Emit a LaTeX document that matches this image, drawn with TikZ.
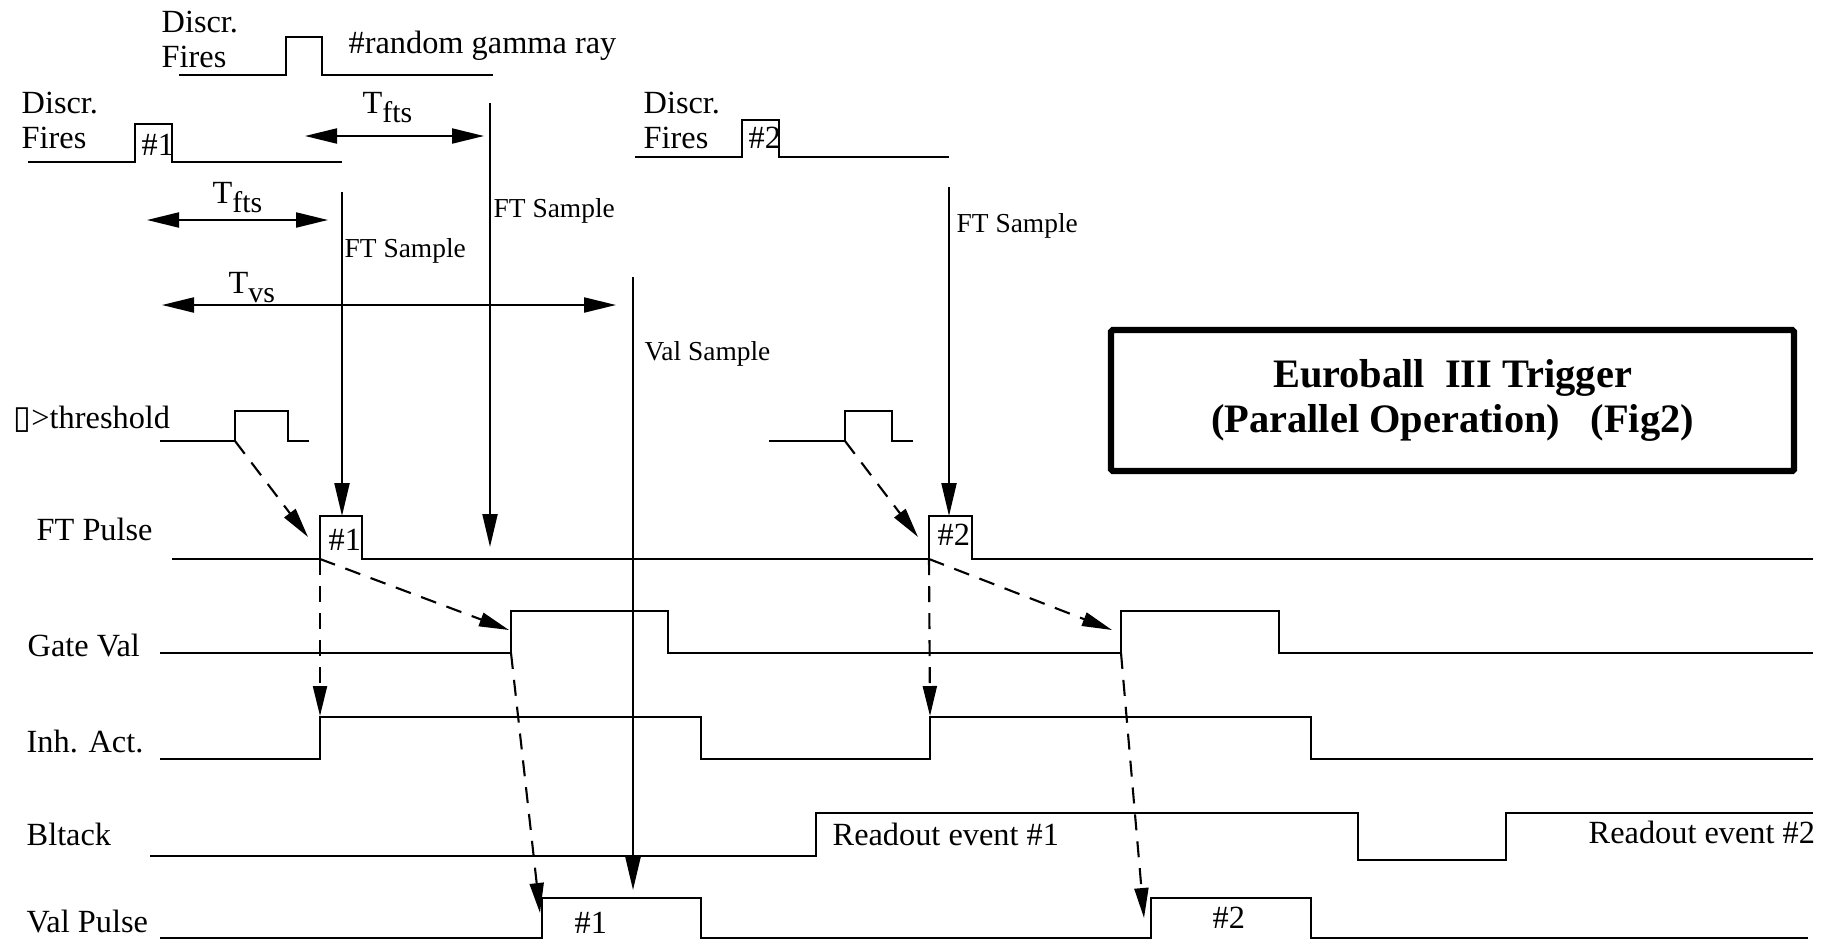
\documentclass[tikz,border=0pt]{standalone}
\usepackage{fontspec}
\setmainfont{Liberation Serif}
\newfontfamily\symfont{DejaVu Sans}
\usetikzlibrary{arrows.meta}

\tikzset{
  wave/.style={line width=0.6pt, line join=miter},
  sample/.style={line width=0.6pt, -{Triangle[length=3.3mm, width=1.5mm]}},
  span/.style={line width=0.6pt, {Triangle[length=3.2mm, width=1.5mm]}-{Triangle[length=3.2mm, width=1.5mm]}},
  cause/.style={line width=0.6pt, dash pattern=on 1.6mm off 1.1mm, -{Triangle[length=3mm, width=1.4mm]}},
  lbl/.style={anchor=base west, inner sep=0pt, font=\fontsize{9.2}{10}\selectfont},
  smalllbl/.style={lbl, font=\fontsize{7.8}{9}\selectfont},
}
\newcommand{\tlow}[1]{\raisebox{-2.8pt}{\fontsize{8.5}{9}\selectfont #1}}

\begin{document}
\begin{tikzpicture}[x=0.1mm, y=-0.1mm]
  \useasboundingbox (0,0) rectangle (1832,943);

  % discriminator signals
  \draw[wave] (179,75) -- (286,75) -- (286,37) -- (322,37) -- (322,75) -- (493,75);
  \draw[wave] (28,162) -- (135,162) -- (135,124) -- (172,124) -- (172,162) -- (342,162);
  \draw[wave] (635,157) -- (742,157) -- (742,120) -- (779,120) -- (779,157) -- (949,157);
  \node[lbl] (discrR) at (161,32) {Discr.};
  \node[lbl] (firesR) at (161,67) {Fires};
  \node[lbl] (gamma) at (348,54) {\#random gamma ray};
  \node[lbl] (discrA) at (21,113) {Discr.};
  \node[lbl] (firesA) at (21,148) {Fires};
  \node[lbl] (hashA) at (141,155) {\#1};
  \node[lbl] (discrB) at (643,113) {Discr.};
  \node[lbl] (firesB) at (643,148) {Fires};
  \node[lbl] (hashB) at (748,148) {\#2};

  % time spans
  \coordinate (tfA0) at (305,136); \coordinate (tfA1) at (484,136);
  \coordinate (tfB0) at (147,220); \coordinate (tfB1) at (328,220);
  \coordinate (tv0) at (162,305);  \coordinate (tv1) at (616,305);
  \draw[span] (tfA0) -- (tfA1);
  \draw[span] (tfB0) -- (tfB1);
  \draw[span] (tv0) -- (tv1);
  \node[lbl] (tftsA) at (362,113) {T\tlow{fts}};
  \node[lbl] (tftsB) at (212,203) {T\tlow{fts}};
  \node[lbl] (tvs) at (228,293) {T\tlow{vs}};

  % sample arrows
  \coordinate (sA0) at (342,192); \coordinate (sA1) at (342,516);
  \coordinate (sR0) at (490,103); \coordinate (sR1) at (490,547);
  \coordinate (sB0) at (949,187); \coordinate (sB1) at (949,516);
  \coordinate (sV0) at (633,277); \coordinate (sV1) at (633,890);
  \draw[sample] (sA0) -- (sA1);
  \draw[sample] (sR0) -- (sR1);
  \draw[sample] (sB0) -- (sB1);
  \draw[sample] (sV0) -- (sV1);
  \node[smalllbl] (ftsA) at (344,257) {FT Sample};
  \node[smalllbl] (ftsR) at (493,217) {FT Sample};
  \node[smalllbl] (ftsB) at (956,232) {FT Sample};
  \node[smalllbl] (vals) at (644,360) {Val Sample};

  % timing lines
  \node[lbl] (thr) at (13,428) {{\symfont ▯}>threshold};
  \draw[wave] (160,441) -- (235,441) coordinate (thrA) -- (235,411) -- (288,411) -- (288,441) -- (309,441);
  \draw[wave] (769,441) -- (845,441) coordinate (thrB) -- (845,411) -- (892,411) -- (892,441) -- (913,441);

  \node[lbl] (ftp) at (36,540) {FT Pulse};
  \draw[wave] (172,559) -- (320,559) coordinate (ftA) -- (320,516) -- (362,516) -- (362,559)
      -- (929,559) coordinate (ftB) -- (929,516) -- (972,516) -- (972,559) -- (1813,559);
  \node[lbl] (ftpA) at (328,550) {\#1};
  \node[lbl] (ftpB) at (937,545) {\#2};

  \node[lbl] (gate) at (27,656) {Gate Val};
  \draw[wave] (160,653) -- (511,653) coordinate (gvA) -- (511,611) -- (668,611) -- (668,653)
      -- (1121,653) coordinate (gvB) -- (1121,611) -- (1279,611) -- (1279,653) -- (1813,653);

  \node[lbl] (inh) at (26,752) {Inh. Act.};
  \draw[wave] (160,759) -- (320,759) -- (320,717) -- (701,717) -- (701,759)
      -- (930,759) -- (930,717) -- (1311,717) -- (1311,759) -- (1813,759);

  \node[lbl] (blt) at (26,845) {Bltack};
  \draw[wave] (150,856) -- (816,856) -- (816,813) -- (1358,813) -- (1358,860)
      -- (1506,860) -- (1506,813) -- (1813,813);
  \node[lbl] (roA) at (832,845) {Readout event \#1};
  \node[lbl] (roB) at (1588,843) {Readout event \#2};

  \node[lbl] (valp) at (26,932) {Val Pulse};
  \draw[wave] (160,938) -- (542,938) -- (542,898) -- (701,898) -- (701,938)
      -- (1151,938) -- (1151,898) -- (1311,898) -- (1311,938) -- (1808,938);
  \node[lbl] (valA) at (574,933) {\#1};
  \node[lbl] (valB) at (1212,928) {\#2};

  % causal links
  \coordinate (ftAin) at (308,537);  \coordinate (ftBin) at (918,537);
  \coordinate (gvAin) at (509,630);  \coordinate (gvBin) at (1112,630);
  \coordinate (inhA) at (320,716);   \coordinate (inhB) at (930,716);
  \coordinate (valAin) at (540,913); \coordinate (valBin) at (1144,918);
  \draw[cause] (thrA) -- (ftAin);
  \draw[cause] (thrB) -- (ftBin);
  \draw[cause] (ftA) -- (gvAin);
  \draw[cause] (ftB) -- (gvBin);
  \draw[cause] (ftA) -- (inhA);
  \draw[cause] (ftB) -- (inhB);
  \draw[cause] (gvA) -- (valAin);
  \draw[cause] (gvB) -- (valBin);

  % title
  \node[draw, line width=1.8pt, rounded corners=0.5pt, inner sep=0pt,
        minimum width=68.3mm, minimum height=14.1mm, align=center,
        font=\fontsize{11.5}{12.8}\selectfont\bfseries] (title) at (1452.5,400.5)
        {Euroball~~III Trigger\\(Parallel Operation)~~~(Fig2)};
\end{tikzpicture}
\end{document}
